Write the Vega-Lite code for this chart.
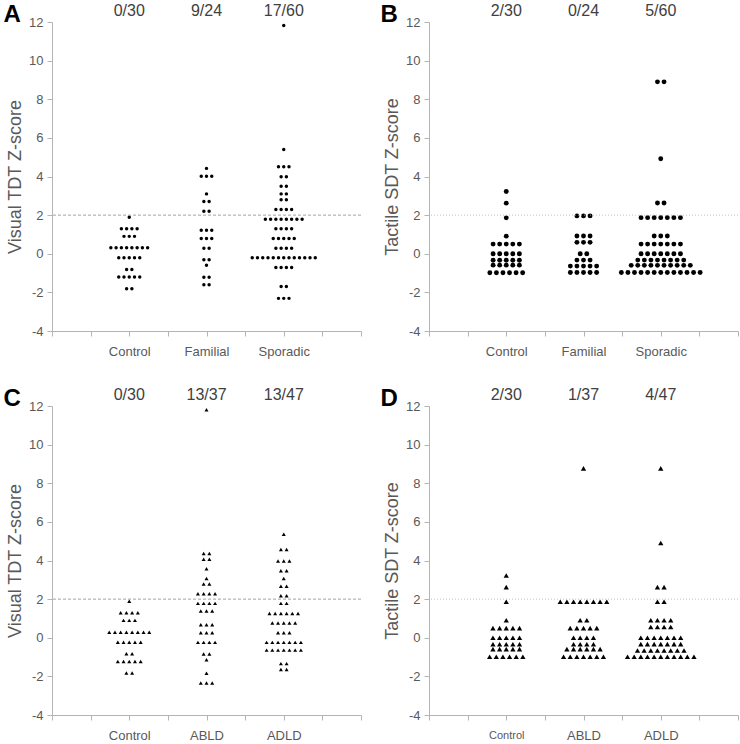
{
  "$schema": "https://vega.github.io/schema/vega-lite/v6.json",
  "padding": {"left": 3, "top": 3, "right": 0, "bottom": 0},
  "background": "white",
  "config": {
    "view": {"stroke": null},
    "font": "Liberation Sans",
    "axis": {"grid": false, "domainColor": "#b4b4b4", "tickColor": "#b4b4b4", "labelColor": "#595959", "titleColor": "#595959", "labelFontSize": 13, "titleFontSize": 18, "titleFontWeight": "normal", "tickSize": 5, "labelPadding": 4, "labelOverlap": false},
    "axisY": {"values": [-4, -2, 0, 2, 4, 6, 8, 10, 12], "labelOverlap": false, "titlePadding": 4, "labelExpr": "datum.value < 0 ? '-' + abs(datum.value) : '' + datum.value"},
    "axisX": {"values": [0, 1, 2, 3, 4], "labelPadding": 9, "labelOverlap": false},
    "title": {"anchor": "start", "frame": "bounds", "fontSize": 24, "fontWeight": "bold", "color": "#000000", "baseline": "alphabetic", "offset": -24, "dx": -3}
  },
  "datasets": {
    "a": [
      {"g":1,"z":1.89},{"g":1,"z":1.29},{"g":1,"z":1.29},{"g":1,"z":1.29},{"g":1,"z":1.29},{"g":1,"z":0.9},{"g":1,"z":0.9},{"g":1,"z":0.9},
      {"g":1,"z":0.31},{"g":1,"z":0.31},{"g":1,"z":0.31},{"g":1,"z":0.31},{"g":1,"z":0.31},{"g":1,"z":0.31},{"g":1,"z":0.31},{"g":1,"z":0.31},
      {"g":1,"z":-0.21},{"g":1,"z":-0.21},{"g":1,"z":-0.21},{"g":1,"z":-0.21},{"g":1,"z":-0.21},{"g":1,"z":-0.81},{"g":1,"z":-0.81},
      {"g":1,"z":-1.2},{"g":1,"z":-1.2},{"g":1,"z":-1.2},{"g":1,"z":-1.2},{"g":1,"z":-1.2},{"g":1,"z":-1.81},{"g":1,"z":-1.81},
      {"g":2,"z":4.42},{"g":2,"z":4.01},{"g":2,"z":4.01},{"g":2,"z":4.01},{"g":2,"z":3.1},{"g":2,"z":2.7},{"g":2,"z":2.7},{"g":2,"z":2.2},{"g":2,"z":2.2},
      {"g":2,"z":1.22},{"g":2,"z":1.22},{"g":2,"z":1.22},{"g":2,"z":0.79},{"g":2,"z":0.79},{"g":2,"z":0.79},{"g":2,"z":0.29},{"g":2,"z":0.29},
      {"g":2,"z":-0.31},{"g":2,"z":-0.31},{"g":2,"z":-0.6},{"g":2,"z":-1.22},{"g":2,"z":-1.22},{"g":2,"z":-1.6},{"g":2,"z":-1.6},
      {"g":3,"z":11.82},{"g":3,"z":5.4},{"g":3,"z":4.51},{"g":3,"z":4.51},{"g":3,"z":4.51},{"g":3,"z":3.99},{"g":3,"z":3.99},{"g":3,"z":3.49},{"g":3,"z":3.49},
      {"g":3,"z":3.1},{"g":3,"z":3.1},{"g":3,"z":2.8},{"g":3,"z":2.8},{"g":3,"z":2.29},{"g":3,"z":2.29},{"g":3,"z":2.29},{"g":3,"z":2.29},
      {"g":3,"z":1.79},{"g":3,"z":1.79},{"g":3,"z":1.79},{"g":3,"z":1.79},{"g":3,"z":1.79},{"g":3,"z":1.79},{"g":3,"z":1.79},{"g":3,"z":1.79},
      {"g":3,"z":1.29},{"g":3,"z":1.29},{"g":3,"z":1.29},{"g":3,"z":1.29},{"g":3,"z":0.79},{"g":3,"z":0.79},{"g":3,"z":0.79},{"g":3,"z":0.79},{"g":3,"z":0.79},
      {"g":3,"z":0.29},{"g":3,"z":0.29},{"g":3,"z":0.29},{"g":3,"z":0.29},
      {"g":3,"z":-0.21},{"g":3,"z":-0.21},{"g":3,"z":-0.21},{"g":3,"z":-0.21},{"g":3,"z":-0.21},{"g":3,"z":-0.21},{"g":3,"z":-0.21},{"g":3,"z":-0.21},{"g":3,"z":-0.21},{"g":3,"z":-0.21},{"g":3,"z":-0.21},{"g":3,"z":-0.21},{"g":3,"z":-0.21},
      {"g":3,"z":-0.71},{"g":3,"z":-0.71},{"g":3,"z":-0.71},{"g":3,"z":-0.71},{"g":3,"z":-1.7},{"g":3,"z":-1.7},{"g":3,"z":-2.31},{"g":3,"z":-2.31},{"g":3,"z":-2.31}
    ],
    "b": [
      {"g":1,"z":3.22},{"g":1,"z":2.62},{"g":1,"z":1.86},{"g":1,"z":0.91},
      {"g":1,"z":0.5},{"g":1,"z":0.5},{"g":1,"z":0.5},{"g":1,"z":0.5},{"g":1,"z":0.5},
      {"g":1,"z":0},{"g":1,"z":0},{"g":1,"z":0},{"g":1,"z":0},{"g":1,"z":0},
      {"g":1,"z":-0.34},{"g":1,"z":-0.34},{"g":1,"z":-0.34},{"g":1,"z":-0.34},{"g":1,"z":-0.34},
      {"g":1,"z":-0.59},{"g":1,"z":-0.59},{"g":1,"z":-0.59},{"g":1,"z":-0.59},{"g":1,"z":-0.59},
      {"g":1,"z":-0.98},{"g":1,"z":-0.98},{"g":1,"z":-0.98},{"g":1,"z":-0.98},{"g":1,"z":-0.98},{"g":1,"z":-0.98},
      {"g":2,"z":1.96},{"g":2,"z":1.96},{"g":2,"z":1.96},{"g":2,"z":0.92},{"g":2,"z":0.92},{"g":2,"z":0.92},{"g":2,"z":0.59},{"g":2,"z":0.59},{"g":2,"z":0.59},
      {"g":2,"z":0},{"g":2,"z":0},{"g":2,"z":-0.33},{"g":2,"z":-0.33},{"g":2,"z":-0.33},
      {"g":2,"z":-0.64},{"g":2,"z":-0.64},{"g":2,"z":-0.64},{"g":2,"z":-0.64},{"g":2,"z":-0.64},
      {"g":2,"z":-0.97},{"g":2,"z":-0.97},{"g":2,"z":-0.97},{"g":2,"z":-0.97},{"g":2,"z":-0.97},
      {"g":3,"z":8.9},{"g":3,"z":8.9},{"g":3,"z":4.92},{"g":3,"z":2.63},{"g":3,"z":2.63},
      {"g":3,"z":1.87},{"g":3,"z":1.87},{"g":3,"z":1.87},{"g":3,"z":1.87},{"g":3,"z":1.87},{"g":3,"z":1.87},{"g":3,"z":1.87},
      {"g":3,"z":0.92},{"g":3,"z":0.92},{"g":3,"z":0.92},
      {"g":3,"z":0.5},{"g":3,"z":0.5},{"g":3,"z":0.5},{"g":3,"z":0.5},{"g":3,"z":0.5},{"g":3,"z":0.5},{"g":3,"z":0.5},
      {"g":3,"z":0},{"g":3,"z":0},{"g":3,"z":0},{"g":3,"z":0},{"g":3,"z":0},{"g":3,"z":0},{"g":3,"z":0},
      {"g":3,"z":-0.33},{"g":3,"z":-0.33},{"g":3,"z":-0.33},{"g":3,"z":-0.33},{"g":3,"z":-0.33},{"g":3,"z":-0.33},{"g":3,"z":-0.33},{"g":3,"z":-0.33},
      {"g":3,"z":-0.6},{"g":3,"z":-0.6},{"g":3,"z":-0.6},{"g":3,"z":-0.6},{"g":3,"z":-0.6},{"g":3,"z":-0.6},{"g":3,"z":-0.6},{"g":3,"z":-0.6},{"g":3,"z":-0.6},{"g":3,"z":-0.6},
      {"g":3,"z":-0.97},{"g":3,"z":-0.97},{"g":3,"z":-0.97},{"g":3,"z":-0.97},{"g":3,"z":-0.97},{"g":3,"z":-0.97},{"g":3,"z":-0.97},{"g":3,"z":-0.97},{"g":3,"z":-0.97},{"g":3,"z":-0.97},{"g":3,"z":-0.97},{"g":3,"z":-0.97},{"g":3,"z":-0.97}
    ],
    "c": [
      {"g":1,"z":1.89},{"g":1,"z":1.29},{"g":1,"z":1.29},{"g":1,"z":1.29},{"g":1,"z":1.29},{"g":1,"z":0.9},{"g":1,"z":0.9},{"g":1,"z":0.9},
      {"g":1,"z":0.29},{"g":1,"z":0.29},{"g":1,"z":0.29},{"g":1,"z":0.29},{"g":1,"z":0.29},{"g":1,"z":0.29},{"g":1,"z":0.29},{"g":1,"z":0.29},
      {"g":1,"z":-0.23},{"g":1,"z":-0.23},{"g":1,"z":-0.23},{"g":1,"z":-0.23},{"g":1,"z":-0.23},{"g":1,"z":-0.83},{"g":1,"z":-0.83},
      {"g":1,"z":-1.23},{"g":1,"z":-1.23},{"g":1,"z":-1.23},{"g":1,"z":-1.23},{"g":1,"z":-1.23},{"g":1,"z":-1.83},{"g":1,"z":-1.83},
      {"g":2,"z":11.81},{"g":2,"z":4.36},{"g":2,"z":4.36},{"g":2,"z":4.07},{"g":2,"z":4.07},{"g":2,"z":3.57},{"g":2,"z":3.07},{"g":2,"z":2.78},{"g":2,"z":2.78},
      {"g":2,"z":2.28},{"g":2,"z":2.28},{"g":2,"z":2.28},{"g":2,"z":2.28},{"g":2,"z":1.78},{"g":2,"z":1.78},{"g":2,"z":1.78},{"g":2,"z":1.78},
      {"g":2,"z":1.38},{"g":2,"z":1.38},{"g":2,"z":1.38},{"g":2,"z":0.67},{"g":2,"z":0.67},{"g":2,"z":0.67},{"g":2,"z":0.26},{"g":2,"z":0.26},{"g":2,"z":0.26},
      {"g":2,"z":-0.24},{"g":2,"z":-0.24},{"g":2,"z":-0.24},{"g":2,"z":-0.24},{"g":2,"z":-0.84},{"g":2,"z":-0.84},{"g":2,"z":-1.14},{"g":2,"z":-1.84},
      {"g":2,"z":-2.34},{"g":2,"z":-2.34},{"g":2,"z":-2.34},
      {"g":3,"z":5.36},{"g":3,"z":4.57},{"g":3,"z":4.57},{"g":3,"z":3.97},{"g":3,"z":3.97},{"g":3,"z":3.97},{"g":3,"z":3.47},{"g":3,"z":3.47},{"g":3,"z":3.07},
      {"g":3,"z":2.67},{"g":3,"z":2.67},{"g":3,"z":2.17},{"g":3,"z":2.17},{"g":3,"z":1.78},{"g":3,"z":1.78},
      {"g":3,"z":1.26},{"g":3,"z":1.26},{"g":3,"z":1.26},{"g":3,"z":1.26},{"g":3,"z":1.26},{"g":3,"z":1.26},
      {"g":3,"z":0.76},{"g":3,"z":0.76},{"g":3,"z":0.76},{"g":3,"z":0.76},{"g":3,"z":0.76},{"g":3,"z":0.26},{"g":3,"z":0.26},{"g":3,"z":0.26},
      {"g":3,"z":-0.24},{"g":3,"z":-0.24},{"g":3,"z":-0.24},{"g":3,"z":-0.24},{"g":3,"z":-0.24},{"g":3,"z":-0.24},{"g":3,"z":-0.24},
      {"g":3,"z":-0.64},{"g":3,"z":-0.64},{"g":3,"z":-0.64},{"g":3,"z":-0.64},{"g":3,"z":-0.64},{"g":3,"z":-0.64},{"g":3,"z":-0.64},
      {"g":3,"z":-1.34},{"g":3,"z":-1.34},{"g":3,"z":-1.64},{"g":3,"z":-1.64}
    ],
    "d": [
      {"g":1,"z":3.22},{"g":1,"z":2.62},{"g":1,"z":1.86},{"g":1,"z":0.91},
      {"g":1,"z":0.5},{"g":1,"z":0.5},{"g":1,"z":0.5},{"g":1,"z":0.5},{"g":1,"z":0.5},
      {"g":1,"z":0},{"g":1,"z":0},{"g":1,"z":0},{"g":1,"z":0},{"g":1,"z":0},
      {"g":1,"z":-0.34},{"g":1,"z":-0.34},{"g":1,"z":-0.34},{"g":1,"z":-0.34},{"g":1,"z":-0.34},
      {"g":1,"z":-0.59},{"g":1,"z":-0.59},{"g":1,"z":-0.59},{"g":1,"z":-0.59},{"g":1,"z":-0.59},
      {"g":1,"z":-0.98},{"g":1,"z":-0.98},{"g":1,"z":-0.98},{"g":1,"z":-0.98},{"g":1,"z":-0.98},{"g":1,"z":-0.98},
      {"g":2,"z":8.77},{"g":2,"z":1.86},{"g":2,"z":1.86},{"g":2,"z":1.86},{"g":2,"z":1.86},{"g":2,"z":1.86},{"g":2,"z":1.86},{"g":2,"z":1.86},{"g":2,"z":1.86},
      {"g":2,"z":0.91},{"g":2,"z":0.91},{"g":2,"z":0.5},{"g":2,"z":0.5},{"g":2,"z":0.5},{"g":2,"z":0.5},{"g":2,"z":0.5},
      {"g":2,"z":0},{"g":2,"z":0},{"g":2,"z":0},{"g":2,"z":0},{"g":2,"z":-0.34},{"g":2,"z":-0.34},{"g":2,"z":-0.34},{"g":2,"z":-0.34},
      {"g":2,"z":-0.59},{"g":2,"z":-0.59},{"g":2,"z":-0.59},{"g":2,"z":-0.59},{"g":2,"z":-0.59},{"g":2,"z":-0.59},
      {"g":2,"z":-0.98},{"g":2,"z":-0.98},{"g":2,"z":-0.98},{"g":2,"z":-0.98},{"g":2,"z":-0.98},{"g":2,"z":-0.98},{"g":2,"z":-0.98},
      {"g":3,"z":8.77},{"g":3,"z":4.91},{"g":3,"z":2.62},{"g":3,"z":2.62},{"g":3,"z":1.86},{"g":3,"z":1.86},
      {"g":3,"z":0.91},{"g":3,"z":0.91},{"g":3,"z":0.91},{"g":3,"z":0.91},{"g":3,"z":0.56},{"g":3,"z":0.56},{"g":3,"z":0.56},{"g":3,"z":0.56},
      {"g":3,"z":0},{"g":3,"z":0},{"g":3,"z":0},{"g":3,"z":0},{"g":3,"z":0},{"g":3,"z":0},{"g":3,"z":0},
      {"g":3,"z":-0.33},{"g":3,"z":-0.33},{"g":3,"z":-0.33},{"g":3,"z":-0.33},{"g":3,"z":-0.33},{"g":3,"z":-0.33},{"g":3,"z":-0.33},
      {"g":3,"z":-0.66},{"g":3,"z":-0.66},{"g":3,"z":-0.66},{"g":3,"z":-0.66},{"g":3,"z":-0.66},{"g":3,"z":-0.66},{"g":3,"z":-0.66},{"g":3,"z":-0.66},
      {"g":3,"z":-0.98},{"g":3,"z":-0.98},{"g":3,"z":-0.98},{"g":3,"z":-0.98},{"g":3,"z":-0.98},{"g":3,"z":-0.98},{"g":3,"z":-0.98},{"g":3,"z":-0.98},{"g":3,"z":-0.98},{"g":3,"z":-0.98},{"g":3,"z":-0.98}
    ]
  },
  "columns": 2,
  "spacing": {"row": 29, "column": 18},
  "concat": [
    {
      "width": 309, "height": 309,
      "title": {"text": "A"},
      "layer": [
        {
          "data": {"name": "a"},
          "transform": [
            {"window": [{"op": "row_number", "as": "r"}], "groupby": ["g", "z"]},
            {"joinaggregate": [{"op": "count", "as": "n"}], "groupby": ["g", "z"]},
            {"calculate": "datum.g + (datum.r - (datum.n + 1) / 2) * 0.068", "as": "xp"}
          ],
          "mark": {"type": "point", "shape": "circle", "filled": true, "size": 12, "color": "#000000", "opacity": 1},
          "encoding": {
            "x": {"field": "xp", "type": "quantitative", "scale": {"domain": [0, 4], "nice": false, "zero": false}, "axis": {"title": null, "labelExpr": "datum.value == 1 ? 'Control' : datum.value == 2 ? 'Familial' : datum.value == 3 ? 'Sporadic' : ''"}},
            "y": {"field": "z", "type": "quantitative", "scale": {"domain": [-4, 12], "nice": false, "zero": false}, "axis": {"title": "Visual TDT Z-score"}}
          }
        },
        {"data": {"values": [{}]}, "mark": {"type": "rule", "color": "#8c8c8c", "strokeWidth": 0.8, "strokeDash": [3, 2]}, "encoding": {"y": {"datum": 2, "type": "quantitative"}}},
        {"data": {"values": [{"g": 1, "t": "0/30"}, {"g": 2, "t": "9/24"}, {"g": 3, "t": "17/60"}]}, "mark": {"type": "text", "fontSize": 16, "color": "#404040", "baseline": "alphabetic", "dy": -6}, "encoding": {"x": {"field": "g", "type": "quantitative"}, "y": {"datum": 12, "type": "quantitative"}, "text": {"field": "t"}}}
      ]
    },
    {
      "width": 309, "height": 309,
      "title": {"text": "B"},
      "layer": [
        {
          "data": {"name": "b"},
          "transform": [
            {"window": [{"op": "row_number", "as": "r"}], "groupby": ["g", "z"]},
            {"joinaggregate": [{"op": "count", "as": "n"}], "groupby": ["g", "z"]},
            {"calculate": "datum.g + (datum.r - (datum.n + 1) / 2) * 0.085", "as": "xp"}
          ],
          "mark": {"type": "point", "shape": "circle", "filled": true, "size": 24, "color": "#000000", "opacity": 1},
          "encoding": {
            "x": {"field": "xp", "type": "quantitative", "scale": {"domain": [0, 4], "nice": false, "zero": false}, "axis": {"title": null, "labelExpr": "datum.value == 1 ? 'Control' : datum.value == 2 ? 'Familial' : datum.value == 3 ? 'Sporadic' : ''"}},
            "y": {"field": "z", "type": "quantitative", "scale": {"domain": [-4, 12], "nice": false, "zero": false}, "axis": {"title": "Tactile SDT Z-score"}}
          }
        },
        {"data": {"values": [{}]}, "mark": {"type": "rule", "color": "#b0b0b0", "strokeWidth": 0.8, "strokeDash": [1, 2]}, "encoding": {"y": {"datum": 2, "type": "quantitative"}}},
        {"data": {"values": [{"g": 1, "t": "2/30"}, {"g": 2, "t": "0/24"}, {"g": 3, "t": "5/60"}]}, "mark": {"type": "text", "fontSize": 16, "color": "#404040", "baseline": "alphabetic", "dy": -6}, "encoding": {"x": {"field": "g", "type": "quantitative"}, "y": {"datum": 12, "type": "quantitative"}, "text": {"field": "t"}}}
      ]
    },
    {
      "width": 309, "height": 309,
      "title": {"text": "C"},
      "layer": [
        {
          "data": {"name": "c"},
          "transform": [
            {"window": [{"op": "row_number", "as": "r"}], "groupby": ["g", "z"]},
            {"joinaggregate": [{"op": "count", "as": "n"}], "groupby": ["g", "z"]},
            {"calculate": "datum.g + (datum.r - (datum.n + 1) / 2) * 0.074", "as": "xp"}
          ],
          "mark": {"type": "point", "shape": "triangle-up", "filled": true, "size": 16, "color": "#000000", "opacity": 1},
          "encoding": {
            "x": {"field": "xp", "type": "quantitative", "scale": {"domain": [0, 4], "nice": false, "zero": false}, "axis": {"title": null, "labelExpr": "datum.value == 1 ? 'Control' : datum.value == 2 ? 'ABLD' : datum.value == 3 ? 'ADLD' : ''"}},
            "y": {"field": "z", "type": "quantitative", "scale": {"domain": [-4, 12], "nice": false, "zero": false}, "axis": {"title": "Visual TDT Z-score"}}
          }
        },
        {"data": {"values": [{}]}, "mark": {"type": "rule", "color": "#8c8c8c", "strokeWidth": 0.8, "strokeDash": [3, 2]}, "encoding": {"y": {"datum": 2, "type": "quantitative"}}},
        {"data": {"values": [{"g": 1, "t": "0/30"}, {"g": 2, "t": "13/37"}, {"g": 3, "t": "13/47"}]}, "mark": {"type": "text", "fontSize": 16, "color": "#404040", "baseline": "alphabetic", "dy": -6}, "encoding": {"x": {"field": "g", "type": "quantitative"}, "y": {"datum": 12, "type": "quantitative"}, "text": {"field": "t"}}}
      ]
    },
    {
      "width": 309, "height": 309,
      "title": {"text": "D"},
      "layer": [
        {
          "data": {"name": "d"},
          "transform": [
            {"window": [{"op": "row_number", "as": "r"}], "groupby": ["g", "z"]},
            {"joinaggregate": [{"op": "count", "as": "n"}], "groupby": ["g", "z"]},
            {"calculate": "datum.g + (datum.r - (datum.n + 1) / 2) * 0.086", "as": "xp"}
          ],
          "mark": {"type": "point", "shape": "triangle-up", "filled": true, "size": 28, "color": "#000000", "opacity": 1},
          "encoding": {
            "x": {"field": "xp", "type": "quantitative", "scale": {"domain": [0, 4], "nice": false, "zero": false}, "axis": {"title": null, "labelFontSize": {"condition": {"test": "datum.value == 1", "value": 11}, "value": 13}, "labelExpr": "datum.value == 1 ? 'Control' : datum.value == 2 ? 'ABLD' : datum.value == 3 ? 'ADLD' : ''"}},
            "y": {"field": "z", "type": "quantitative", "scale": {"domain": [-4, 12], "nice": false, "zero": false}, "axis": {"title": "Tactile SDT Z-score"}}
          }
        },
        {"data": {"values": [{}]}, "mark": {"type": "rule", "color": "#b0b0b0", "strokeWidth": 0.8, "strokeDash": [1, 2]}, "encoding": {"y": {"datum": 2, "type": "quantitative"}}},
        {"data": {"values": [{"g": 1, "t": "2/30"}, {"g": 2, "t": "1/37"}, {"g": 3, "t": "4/47"}]}, "mark": {"type": "text", "fontSize": 16, "color": "#404040", "baseline": "alphabetic", "dy": -6}, "encoding": {"x": {"field": "g", "type": "quantitative"}, "y": {"datum": 12, "type": "quantitative"}, "text": {"field": "t"}}}
      ]
    }
  ]
}
